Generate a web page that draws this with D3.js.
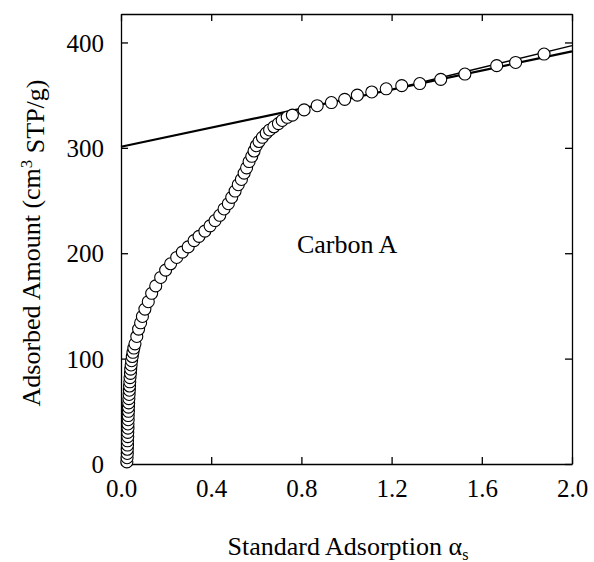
<!DOCTYPE html>
<html>
<head>
<meta charset="utf-8">
<script src="https://cdn.jsdelivr.net/npm/d3@7"></script>
<style>
    body { margin: 0; background: #fff; }
    svg text { font-family: "Liberation Serif", "DejaVu Serif", "Noto Serif", serif; fill: #000; }
</style>
</head>
<body>
<div id="chart"></div>
<script>
// standard adsorption alpha_s (x) and adsorbed amount, cm3 STP/g (y)
const alphaS = [0.026, 0.027, 0.028, 0.028, 0.029, 0.029, 0.030, 0.030, 0.031, 0.031,
    0.032, 0.032, 0.033, 0.033, 0.034, 0.035, 0.036, 0.037, 0.038, 0.039,
    0.040, 0.042, 0.043, 0.045, 0.047, 0.050, 0.053, 0.057, 0.062, 0.070,
    0.078, 0.087, 0.095, 0.106, 0.121, 0.136, 0.154, 0.176, 0.198, 0.220,
    0.247, 0.272, 0.298, 0.324, 0.346, 0.372, 0.395, 0.417, 0.438, 0.457,
    0.476, 0.491, 0.506, 0.520, 0.534, 0.546, 0.557, 0.568, 0.580, 0.590,
    0.600, 0.612, 0.627, 0.644, 0.659, 0.678, 0.698, 0.715, 0.737, 0.760,
    0.812, 0.870, 0.933, 0.992, 1.048, 1.112, 1.176, 1.245, 1.325, 1.418,
    1.525, 1.666, 1.750, 1.876];
const adsorbed = [2, 6, 10, 14, 18, 22, 26, 30, 34, 38,
    42, 46, 50, 54, 58, 62, 66, 70, 74, 78,
    82, 86, 90, 94, 98, 102, 106, 110, 114, 121,
    128, 134, 140, 147, 154, 162, 169, 177, 184, 190,
    196, 201, 206, 212, 216, 221, 226, 231, 236, 242,
    247, 253, 259, 265, 270, 276, 281, 287, 292, 297,
    302, 306, 310, 314, 317, 320, 323, 326, 329, 331,
    336, 340, 343, 346, 350, 353, 356, 359, 361, 365,
    370, 378, 381, 389];

// straight lines drawn over the multilayer part
const fitAlpha = [0, 2.0];
const fitAmount = [301, 391.5];
const fit2Alpha = [1.25, 2.0];
const fit2Amount = [358, 397];

const xTicks = [0, 0.4, 0.8, 1.2, 1.6, 2.0];
const yTicks = [0, 100, 200, 300, 400];

const FONT = '"Liberation Serif", "DejaVu Serif", "Noto Serif", serif';

const margin = {top: 14, right: 22, bottom: 98, left: 121};
const W = 594, H = 562;
const width = W - margin.left - margin.right;
const height = H - margin.top - margin.bottom;

const svg = d3.select("#chart").append("svg")
    .attr("width", W)
    .attr("height", H)
    .style("font-family", FONT);

const g = svg.append("g")
    .attr("transform", "translate(" + margin.left + "," + margin.top + ")");

const x = d3.scaleLinear().domain([0, 2.0]).range([0, width]);
const y = d3.scaleLinear().domain([0, 427]).range([height, 0]);

/* осі */
const xAxis = g.append("g")
    .attr("transform", "translate(0," + height + ")")
    .call(d3.axisBottom(x).tickValues(xTicks).tickFormat(d3.format(".1f"))
        .tickSizeInner(-7).tickSizeOuter(0).tickPadding(14));

const yAxis = g.append("g")
    .call(d3.axisLeft(y).tickValues(yTicks).tickFormat(d3.format("d"))
        .tickSizeInner(-7).tickSizeOuter(0).tickPadding(17));

g.append("g")
    .call(d3.axisTop(x).tickValues(xTicks).tickFormat("")
        .tickSizeInner(-7).tickSizeOuter(0));

g.append("g")
    .attr("transform", "translate(" + width + ",0)")
    .call(d3.axisRight(y).tickValues(yTicks).tickFormat("")
        .tickSizeInner(-7).tickSizeOuter(0));

g.selectAll("g").attr("font-family", FONT);
g.selectAll(".domain").attr("stroke", "#000").attr("stroke-width", 1.3);
g.selectAll(".tick line").attr("stroke", "#000").attr("stroke-width", 1.3);
g.selectAll(".tick text")
    .attr("font-family", FONT)
    .style("font-family", FONT)
    .style("font-size", "25px")
    .attr("fill", "#000");
xAxis.selectAll(".tick text").attr("dy", "0.75em");
yAxis.selectAll(".tick text").attr("dy", "0.35em");

/* лінії */
const line = d3.line()
    .x(function(d) { return x(d[0]); })
    .y(function(d) { return y(d[1]); });

g.append("path")
    .datum(d3.zip(fitAlpha, fitAmount))
    .attr("d", line)
    .attr("fill", "none")
    .attr("stroke", "#000")
    .attr("stroke-width", 2.2);

g.append("path")
    .datum(d3.zip(fit2Alpha, fit2Amount))
    .attr("d", line)
    .attr("fill", "none")
    .attr("stroke", "#000")
    .attr("stroke-width", 1.4);

/* точки */
g.selectAll(".pt")
    .data(d3.zip(alphaS, adsorbed))
    .enter().append("circle")
    .attr("class", "pt")
    .attr("cx", function(d) { return x(d[0]); })
    .attr("cy", function(d) { return y(d[1]); })
    .attr("r", 6)
    .attr("fill", "#fff")
    .attr("stroke", "#000")
    .attr("stroke-width", 1.1);

g.append("text")
    .attr("x", x(0.78))
    .attr("y", y(200))
    .style("font-size", "26px")
    .text("Carbon A");

/* підписи осей */
const yLab = svg.append("text")
    .attr("transform", "translate(40," + (margin.top + height / 2 + 4) + ") rotate(-90)")
    .attr("text-anchor", "middle")
    .style("font-size", "26px");
yLab.append("tspan").text("Adsorbed Amount (cm");
yLab.append("tspan").attr("dy", "-0.45em").style("font-size", "17px").text("3");
yLab.append("tspan").attr("dy", "0.45em").text(" STP/g)");

const xLab = svg.append("text")
    .attr("x", 348)
    .attr("y", 555)
    .attr("text-anchor", "middle")
    .style("font-size", "26px");
xLab.append("tspan").text("Standard Adsorption α");
xLab.append("tspan").attr("dy", "0.3em").style("font-size", "16px").text("s");
</script>
</body>
</html>
